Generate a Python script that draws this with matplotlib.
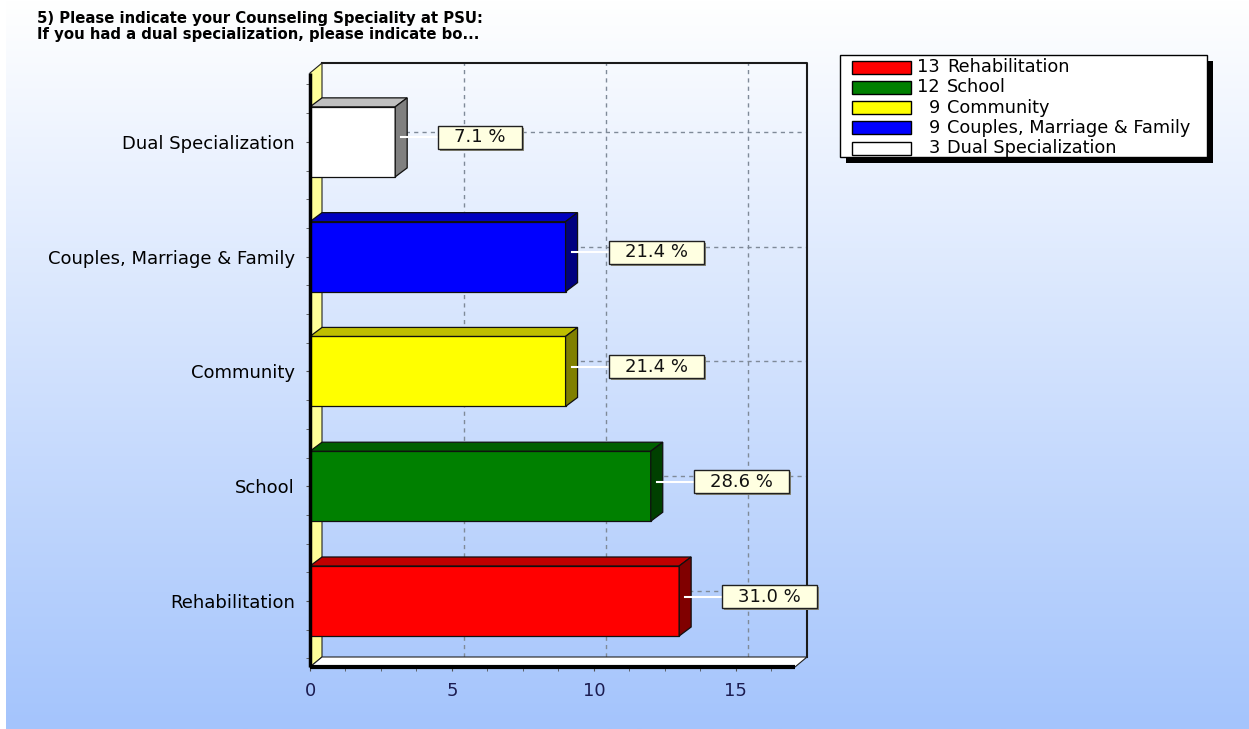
import numpy as np
import matplotlib
matplotlib.use('Agg')
import matplotlib.pyplot as plt
from matplotlib.patches import Polygon, Rectangle
from matplotlib.colors import to_rgb

# data
categories = ['Rehabilitation', 'School', 'Community',
              'Couples, Marriage & Family', 'Dual Specialization']
counts = [13, 12, 9, 9, 3]
percents = [31.0, 28.6, 21.4, 21.4, 7.1]
bar_colors = ['#ff0000', '#008000', '#ffff00', '#0000ff', '#ffffff']
x_labels = [0, 5, 10, 15]
title = ('5) Please indicate your Counseling Speciality at PSU:\n'
         'If you had a dual specialization, please indicate bo...')

W, H = 1249, 729
fig = plt.figure(figsize=(W / 100, H / 100), dpi=100)

# background gradient
bg = fig.add_axes([0, 0, 1, 1])
g = np.linspace(0, 1, 256)[:, None, None]
top = np.array([1.0, 1.0, 1.0])
bot = np.array([0xa4, 0xc4, 0xfc]) / 255
bg.imshow(top + (bot - top) * g, aspect='auto', extent=[6, W, H, 0])
bg.set_xlim(0, W)
bg.set_ylim(H, 0)
bg.axis('off')

# main axes = front plane of the 3d box (pixel box)
L, R, T, B = 310, 795, 73, 667
ax = fig.add_axes([L / W, 1 - B / H, (R - L) / W, (B - T) / H])
ax.patch.set_alpha(0)
xmax = 17.08
ylo, yhi = -0.575, 4.60
ax.set_xlim(0, xmax)
ax.set_ylim(ylo, yhi)
ppx = (R - L) / xmax
ppy = (B - T) / (yhi - ylo)
DX, DY = 12 / ppx, 10 / ppy

for s in ax.spines.values():
    s.set_visible(False)

# grid on the back wall
for xv in x_labels[1:]:
    ax.plot([xv + DX, xv + DX], [ylo + DY, yhi + DY], color='#7f8a98',
            lw=1, ls=(0, (3, 3)), zorder=1, clip_on=False)
ypos = np.arange(len(categories))
for yv in ypos:
    ax.plot([DX, xmax + DX], [yv + DY, yv + DY], color='#7f8a98',
            lw=1, ls=(0, (3, 3)), zorder=1, clip_on=False)

# back wall outline
ax.plot([DX, xmax + DX, xmax + DX], [yhi + DY, yhi + DY, ylo + DY],
        color='#1a1a1a', lw=1.5, zorder=2, clip_on=False)

# left wall and floor
ax.add_patch(Polygon([(0, ylo), (0, yhi), (DX, yhi + DY), (DX, ylo + DY)],
                     closed=True, fc='#ffff99', ec='#202020', lw=0.8,
                     zorder=2, clip_on=False))
ax.add_patch(Polygon([(0, ylo), (xmax, ylo), (xmax + DX, ylo + DY), (DX, ylo + DY)],
                     closed=True, fc='white', ec='#202020', lw=0.8,
                     zorder=2, clip_on=False))

# bars
bh = 0.61
bdx, bdy = 12 / ppx, 9 / ppy
ax.barh(ypos, counts, height=bh, color=bar_colors, edgecolor='#101010',
        lw=0.9, zorder=5)
for yv, v, c in zip(ypos, counts, bar_colors):
    rgb = np.array(to_rgb(c))
    ax.add_patch(Polygon([(0, yv + bh / 2), (v, yv + bh / 2),
                          (v + bdx, yv + bh / 2 + bdy), (bdx, yv + bh / 2 + bdy)],
                         closed=True, fc=rgb * 0.75, ec='#101010', lw=0.9,
                         zorder=5, clip_on=False))
    ax.add_patch(Polygon([(v, yv - bh / 2), (v + bdx, yv - bh / 2 + bdy),
                          (v + bdx, yv + bh / 2 + bdy), (v, yv + bh / 2)],
                         closed=True, fc=rgb * 0.5, ec='#101010', lw=0.9,
                         zorder=5, clip_on=False))

# front axis lines
ax.plot([0, 0], [ylo, yhi], color='black', lw=2.5, zorder=7,
        clip_on=False, solid_capstyle='butt')
ax.plot([0, xmax], [ylo, ylo], color='black', lw=3, zorder=7,
        clip_on=False, solid_capstyle='butt')

# ticks
fs = 13
ax.set_yticks(ypos)
ax.set_yticklabels(categories, fontsize=fs, color='black')
ax.set_yticks(np.arange(-0.5, 4.51, 0.25), minor=True)
ax.set_xticks(x_labels)
ax.set_xticklabels([str(v) for v in x_labels], fontsize=fs, color='#1c1c50')
ax.set_xticks(np.arange(0, xmax, 1.25), minor=True)
ax.tick_params(axis='y', which='both', length=3, color='#505050', pad=8)
ax.tick_params(axis='x', which='both', length=3, color='#505050', pad=8)

# percentage labels
fig.canvas.draw()
renderer = fig.canvas.get_renderer()
for yv, v, p in zip(ypos, counts, percents):
    cy = yv + 4.5 / ppy
    x0 = v + 43 / ppx
    t = ax.text(x0, cy, f'{p:.1f} %', fontsize=fs, ha='left', va='center',
                zorder=9, clip_on=False, color='#111111')
    bb = t.get_window_extent(renderer)
    wpx = bb.width + 32
    t.set_position((x0 + 16 / ppx, cy))
    ax.add_patch(Rectangle((x0 + 2 / ppx, cy - 13.5 / ppy), wpx / ppx, 23 / ppy,
                           fc='#8a8a7a', ec='none', zorder=7.5, clip_on=False))
    ax.add_patch(Rectangle((x0, cy - 11.5 / ppy), wpx / ppx, 23 / ppy,
                           fc='#ffffe1', ec='#202020', lw=1, zorder=8, clip_on=False))
    ax.plot([v + 6 / ppx, x0], [cy, cy], color='white', lw=1.5, zorder=6,
            clip_on=False)

# legend box
lw_, lh_ = 367, 102
lax = fig.add_axes([840 / W, 1 - 157 / H, lw_ / W, lh_ / H])
lax.set_xlim(0, lw_)
lax.set_ylim(lh_, 0)
lax.axis('off')
lax.add_patch(Rectangle((6, 6), lw_, lh_, fc='black', ec='none', clip_on=False, zorder=0))
lax.add_patch(Rectangle((0, 0), lw_, lh_, fc='white', ec='black', lw=1, clip_on=False, zorder=1))
for k, (name, n, c) in enumerate(zip(categories, counts, bar_colors)):
    yc = 12 + 20.3 * k
    lax.add_patch(Rectangle((12, yc - 6.5), 59, 13, fc=c, ec='black', lw=1, zorder=2))
    lax.text(100, yc, str(n), fontsize=12.8, ha='right', va='center', zorder=3)
    lax.text(107, yc, name, fontsize=12.8, ha='left', va='center', zorder=3)

fig.text(37 / W, 1 - 11 / H, title, fontsize=10.7, fontweight='bold',
         va='top', ha='left', linespacing=1.12)

fig.savefig('out.png', dpi=100)
